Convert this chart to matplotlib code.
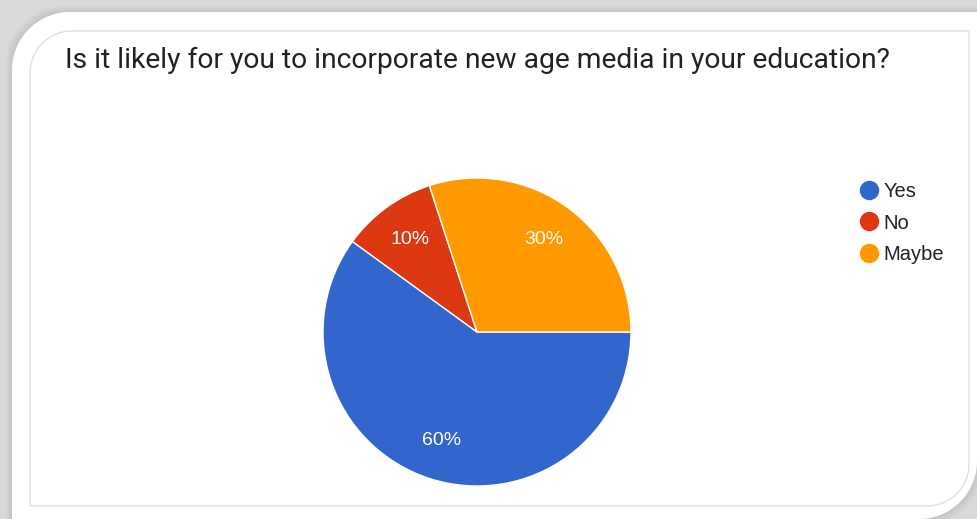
import matplotlib
matplotlib.use("Agg")
import numpy as np
import matplotlib.pyplot as plt
from matplotlib.patches import FancyBboxPatch, Rectangle, Polygon
from matplotlib.lines import Line2D

question = "Is it likely for you to incorporate new age media in your education?"
answers = ["Yes", "No", "Maybe"]
shares = [60, 10, 30]
colors = ["#3366cc", "#dc3912", "#ff9900"]

W, H = 977, 519


def card_outline(x0, y0, x1, y1, rad, n=30):
    # rectangle with rounded top-left and bottom-right corners (y grows downward)
    t = np.linspace(0, np.pi / 2, n)
    br = np.c_[x1 - rad + rad * np.sin(t), y1 - rad + rad * np.cos(t)][::-1]
    tl = np.c_[x0 + rad - rad * np.sin(t), y0 + rad - rad * np.cos(t)][::-1]
    pts = [(x1, y0)] + br.tolist() + [(x0, y1)] + tl.tolist()
    return np.array(pts)


fig = plt.figure(figsize=(W / 100, H / 100), dpi=100)
fig.patch.set_facecolor("#d9d9d9")

# backdrop: grey frame, shadowed white card, form panel border
bg = fig.add_axes([0, 0, 1, 1], zorder=0)
bg.set_xlim(0, W)
bg.set_ylim(H, 0)
bg.axis("off")
for i, a in enumerate([0.04, 0.05, 0.07]):
    grow = 6 - 2 * i
    bg.add_patch(Polygon(card_outline(12 - grow, 12 - grow, W + grow, H + grow, 58),
                         closed=True, fc="#707070", ec="none", alpha=a))
bg.add_patch(Polygon(card_outline(12, 12, W, H, 58), closed=True,
                     fc="white", ec="none"))
bg.add_patch(Polygon(card_outline(30, 31, 969, 506, 42), closed=True,
                     fc="white", ec="#e0e0e0", lw=1))

fig.text(65 / W, 1 - 60 / H, question, fontsize=20.3, family="Roboto",
         color="#202124", ha="left", va="center")

# pie: starts at 3 o'clock and runs clockwise
cx, cy, r = 477, 332, 154
ax = fig.add_axes([(cx - r) / W, (H - cy - r) / H, 2 * r / W, 2 * r / H], zorder=1)
wedges, _, pct = ax.pie(shares, colors=colors, startangle=0, counterclock=False,
                        autopct="%d%%", pctdistance=0.74,
                        wedgeprops=dict(edgecolor="white", linewidth=1),
                        textprops=dict(color="white", fontsize=14,
                                       family="Liberation Sans"))
ax.set_xlim(-1, 1)
ax.set_ylim(-1, 1)

handles = [Line2D([], [], marker="o", ls="none", markersize=13,
                  markerfacecolor=c, markeredgecolor=c) for c in colors]
fig.legend(handles, answers, loc="upper left",
           bbox_to_anchor=(849 / W, 1 - 174 / H), frameon=False,
           prop=dict(family="Liberation Sans", size=14.5), labelcolor="#222222",
           handletextpad=0.1, labelspacing=0.62, handlelength=1.2,
           borderaxespad=0)

fig.savefig("out.png", dpi=100, facecolor=fig.get_facecolor())
